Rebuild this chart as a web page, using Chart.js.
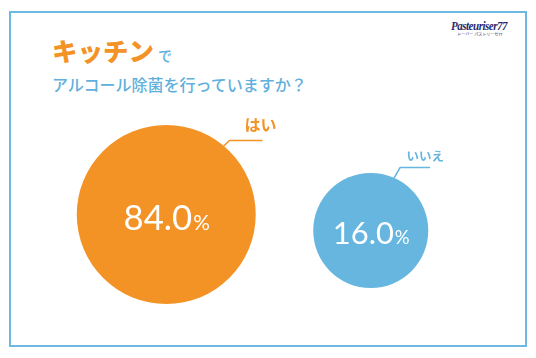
<!DOCTYPE html>
<html lang="ja">
<head>
<meta charset="utf-8">
<script src="https://cdn.jsdelivr.net/npm/chart.js@4"></script>
<style>
  html, body { margin: 0; padding: 0; background: #fff; }
  body { width: 536px; height: 358px; position: relative; overflow: hidden;
         font-family: "Noto Sans CJK JP", sans-serif; }
  .frame { position: absolute; left: 9px; top: 11px; width: 514px; height: 332px;
           border: 2px solid #6db9e1; }
  .title1 { position: absolute; left: 52px; top: 31px; white-space: nowrap; }
  .title1 .big { color: #f39325; font-size: 25.5px; font-weight: 900; }
  .title1 .small { color: #5fb0dc; font-size: 14px; font-weight: 500; margin-left: 4px; }
  .title2 { position: absolute; left: 52px; top: 72px; color: #5fb0dc; font-size: 16px;
            font-weight: 500; white-space: nowrap; }
  .logo { position: absolute; left: 451px; top: 19px; text-align: center; }
  .logo .name { font-family: "Liberation Serif", serif; font-style: italic; font-weight: bold;
                font-size: 13px; color: #2b2a6e; letter-spacing: -0.6px; line-height: 13px;
                transform: scaleX(0.85); transform-origin: left; }
  .logo .sub { font-size: 4px; color: #2b2a6e; line-height: 5px; margin-right: 8px; }
  #wrap { position: absolute; left: 0; top: 0; width: 536px; height: 358px; }
</style>
</head>
<body>
<div class="frame"></div>
<div class="title1"><span class="big">キッチン</span><span class="small">で</span></div>
<div class="title2">アルコール除菌を行っていますか？</div>
<div class="logo"><div class="name">Pasteuriser77</div><div class="sub">ドーバー パストリーゼ77</div></div>
<div id="wrap"><canvas id="chart"></canvas></div>
<script>
// Data
const categories = ['はい', 'いいえ'];
const shares = [84.0, 16.0];
const colors = ['#f39325', '#66b6df'];

// circle size grows with the share (not area-true, like the original)
function bubbleRadius(v) { return 50 + 0.47 * v; }

// callout lines above each circle
const calloutPlugin = {
    id: 'callouts',
    afterDatasetsDraw(chart, args, opts) {
        const ctx = chart.ctx;
        const meta = chart.getDatasetMeta(0);
        meta.data.forEach((el, i) => {
            const r = el.options.radius;
            const value = shares[i];
            const c = opts.items[i];
            const a = c.angle * Math.PI / 180;
            const sx = el.x + r * Math.cos(a);
            const sy = el.y + r * Math.sin(a);
            const ex = sx + c.diag * Math.cos(a + 0.1);
            const ey = sy + c.diag * Math.sin(a + 0.1);
            const hx = ex + c.run;

            ctx.save();
            ctx.strokeStyle = colors[i];
            ctx.lineWidth = 1.5;
            ctx.beginPath();
            ctx.moveTo(sx, sy);
            ctx.lineTo(ex, ey);
            ctx.lineTo(hx, ey);
            ctx.stroke();

            // category label
            ctx.fillStyle = colors[i];
            ctx.font = 'bold ' + c.fontSize + 'px "Noto Sans CJK JP"';
            ctx.textAlign = 'right';
            ctx.textBaseline = 'alphabetic';
            ctx.fillText(categories[i], hx + 14, ey - c.lift);

            // value label inside the circle
            const numSize = 24 + r * 0.12;
            const numText = value.toFixed(1);
            ctx.fillStyle = '#ffffff';
            ctx.font = numSize + 'px Lato';
            const w1 = ctx.measureText(numText).width;
            ctx.font = (numSize * 0.6) + 'px Lato';
            const w2 = ctx.measureText('%').width;
            const left = el.x - (w1 + w2) / 2;
            const base = el.y + numSize * 0.44;
            ctx.textAlign = 'left';
            ctx.font = numSize + 'px Lato';
            ctx.fillText(numText, left, base);
            ctx.font = (numSize * 0.6) + 'px Lato';
            ctx.fillText('%', left + w1 + 1, base);
            ctx.restore();
        });
    }
};

const chart = new Chart(document.getElementById('chart'), {
    type: 'bubble',
    data: {
        datasets: [{
            data: shares.map((v, i) => ({ x: i, y: v })),
            backgroundColor: colors,
            borderWidth: 0,
            hoverBorderWidth: 0,
            radius: ctx => bubbleRadius(ctx.raw.y),
            clip: false
        }]
    },
    options: {
        responsive: true,
        maintainAspectRatio: false,
        animation: false,
        events: [],
        layout: { autoPadding: false, padding: { left: 64, right: 63, top: 0, bottom: 0 } },
        scales: {
            x: { type: 'linear', min: -0.5, max: 1.5, display: false },
            y: { type: 'linear', min: -526, max: 996, display: false }
        },
        plugins: {
            legend: { display: false },
            tooltip: { enabled: false },
            callouts: {
                items: [
                    { angle: -50, diag: 8, run: 33, fontSize: 16, lift: 9 },
                    { angle: -66, diag: 12, run: 30, fontSize: 12.5, lift: 7 }
                ]
            }
        }
    },
    plugins: [calloutPlugin]
});
</script>
</body>
</html>
